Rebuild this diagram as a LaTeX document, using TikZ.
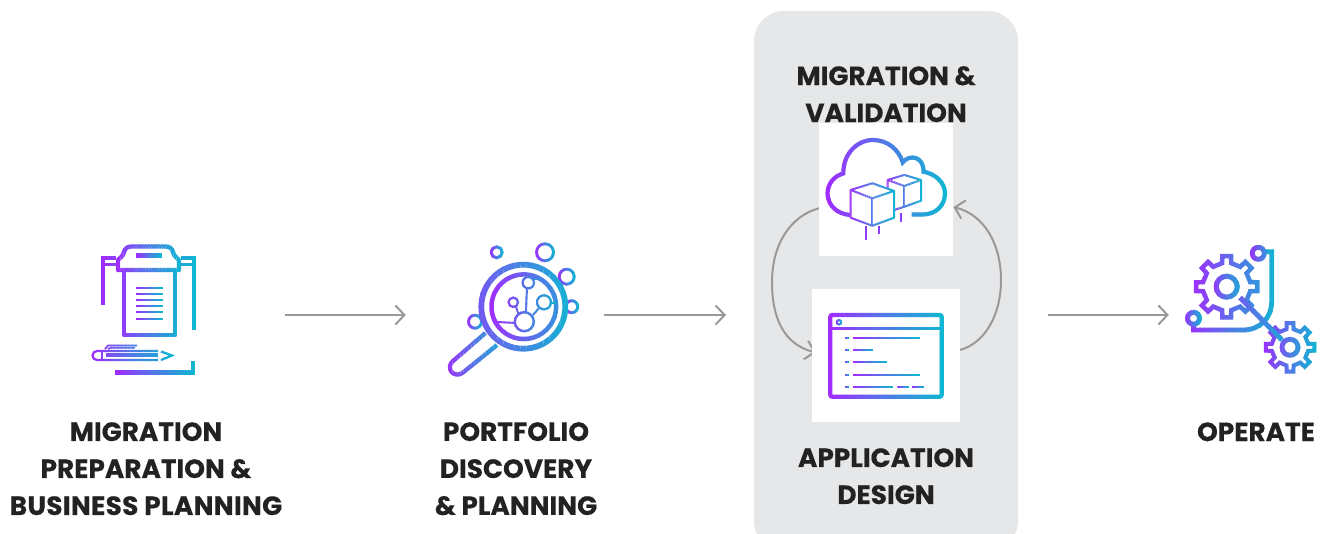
\documentclass[tikz,border=0pt]{standalone}
\usepackage{fontspec}
\setmainfont{Poppins}[BoldFeatures={FakeBold=0.3}]
\usetikzlibrary{arrows.meta,calc}
\definecolor{gA}{HTML}{A02CFF}
\definecolor{gB}{HTML}{4F7BE6}
\definecolor{gC}{HTML}{10B6D2}
\definecolor{tickpurple}{HTML}{8A3CF6}
\definecolor{panelgrey}{HTML}{E6E7E9}
\definecolor{flowgrey}{HTML}{999999}
\definecolor{labelink}{HTML}{222222}
\tikzset{
  flow/.style={draw=flowgrey,line width=2pt,-{Straight Barb[length=9pt,width=19pt,line width=2pt]}},
  label/.style={text=labelink,font=\fontsize{26.35}{37}\selectfont\bfseries,align=center,inner sep=0pt},
  whitebox/.style={fill=white,draw=none,inner sep=0pt},
  anchorbox/.style={inner sep=0pt,minimum height=10pt},
  panelbox/.style={fill=panelgrey,draw=none,rounded corners=30pt,inner sep=0pt},
}
% draw a shape in vertical strips, so that its strokes run through a horizontal gradient
\newcommand{\gradicon}[3]{%
  \foreach \gi in {0,...,23}{%
    \pgfmathsetmacro{\xa}{#1+(#2-#1)*\gi/24}%
    \pgfmathsetmacro{\xb}{#1+(#2-#1)*(\gi+1)/24+0.5}%
    \pgfmathsetmacro{\gt}{\gi/23}%
    \pgfmathparse{\gt<0.5?100-200*\gt:200-200*\gt}\let\gp\pgfmathresult
    \ifdim\gt pt<0.5pt \colorlet{gc}{gA!\gp!gB}\else\colorlet{gc}{gB!\gp!gC}\fi
    \begin{scope}
      \clip (\xa,0) rectangle (\xb,534);
      #3
    \end{scope}
  }%
}
% horizontal gradient bar: x0 x1 y width
\newcommand{\gbar}[4]{\gradicon{#1}{#2}{\draw[gc,line width=#4] (#1,#3) -- (#2,#3);}}
% gradient ring: cx cy r width
\newcommand{\gring}[4]{%
  \pgfmathsetmacro{\rl}{#1-#3-#4/2}\pgfmathsetmacro{\rr}{#1+#3+#4/2}%
  \gradicon{\rl}{\rr}{\draw[gc,line width=#4 pt] (#1,#2) circle[radius=#3];}%
}
\newcommand{\gearat}[5]{% cx cy tip root width
  \draw[gc,line width=#5,line join=miter] (#1,#2) ++(-11:#4)
    \foreach \ga in {0,45,...,315}{
      -- ($(#1,#2)+(\ga-11:#4)$) -- ($(#1,#2)+(\ga-8:#3)$) -- ($(#1,#2)+(\ga+8:#3)$) -- ($(#1,#2)+(\ga+11:#4)$)
      -- ($(#1,#2)+(\ga+34:#4)$)
    } -- cycle;
}
\begin{document}
\begin{tikzpicture}[x=1pt,y=-1pt]
\useasboundingbox (0,0) rectangle (1322,534);

% panel behind the loop
\node[panelbox,minimum width=264pt,minimum height=540pt] (panel) at (886,281) {};

% labels
\node[label] (t1) at (146,468.7) {MIGRATION\\PREPARATION \&\\{\addfontfeature{LetterSpace=1.2}BUSINESS PLANNING}};
\node[label] (t2) at (516,468.7) {PORTFOLIO\\DISCOVERY\\\& PLANNING};
\node[label] (t3) at (886,94.2) {MIGRATION \&\\VALIDATION};
\node[label] (t4) at (886,476.2) {APPLICATION\\DESIGN};
\node[label] (t5) at (1256,431.8) {OPERATE};

% anchors of the straight connectors
\node[anchorbox,minimum width=190pt] (prep) at (190,315) {};
\node[anchorbox,minimum width=198pt] (disc) at (505,315) {};
\coordinate (loopin) at (726,315);
\coordinate (loopout) at (1048,315);
\node[anchorbox,minimum width=140pt] (oper) at (1239,315) {};

\draw[flow] (prep.east) -- (disc.west);
\draw[flow] (disc.east) -- (loopin);
\draw[flow] (loopout) -- (oper.west);

% white tiles and loop
\coordinate (leftstart) at (819,208.3);
\coordinate (lefttip) at (816,352.5);
\coordinate (rightstart) at (960,350);
\coordinate (righttip) at (953.5,207);
\draw[flow] (leftstart) .. controls (790,216) and (772,245) .. (772,282) .. controls (772,320) and (785,345) .. (lefttip);
\node[whitebox,minimum width=134pt,minimum height=133pt] (cloudtile) at (886,189.2) {};
\node[whitebox,minimum width=148pt,minimum height=133pt] (apptile) at (886,355.5) {};
\draw[flow] (rightstart) .. controls (985,343) and (1001,315) .. (1001,280) .. controls (1001,245) and (985,215) .. (righttip);

% icon 1: clipboard
\gradicon{115}{182}{%
  \draw[gc,line width=4.3pt,line join=round] (124,270) rectangle (175,335);
  \draw[gc,line width=4.3pt,line join=round,fill=white] (118,270) -- (118,261) .. controls (118,258) and (122,258) .. (123,255) -- (124,252) .. controls (125,248) and (128,246.5) .. (132,246.5) -- (165,246.5) .. controls (169,246.5) and (172,248) .. (173,252) -- (174,255) .. controls (175,258) and (179,258) .. (179,261) -- (179,270) -- cycle;
}
\gbar{136}{162}{255.5}{4.3pt}
\foreach \ly in {287.7,293.7,300,306,312.3,319}{\gbar{136}{163}{\ly}{2.2pt}}
\gradicon{100}{197}{%
  \draw[gc,line width=4.3pt] (103,305) -- (103,258) -- (116,258);
  \draw[gc,line width=3pt] (103,265) -- (116,265);
  \draw[gc,line width=4.3pt] (194,330) -- (194,258) -- (181,258);
  \draw[gc,line width=3pt] (194,265) -- (181,265);
}
\gradicon{115}{196}{\draw[gc,line width=4.3pt] (115,372.5) -- (193,372.5) -- (193,361);}
\gradicon{90}{174}{%
  \draw[gc,line width=2.2pt] (158,351) -- (97,351) arc[start angle=-90,end angle=-270,radius=4.5] -- (158,360);
  \draw[gc,line width=2.2pt] (102,351) -- (102,360);
  \draw[gc,line width=4pt] (106,355.5) -- (158,355.5);
  \draw[gc,line width=1.7pt] (105,349) -- (108,345.5) -- (137,345.5);
  \draw[gc,line width=1.7pt] (108,349) -- (111,347.7) -- (135,347.7);
  \draw[gc,line width=2.2pt] (161,351.5) -- (172,355.5) -- (161,360);
}

% icon 2: magnifier
\gring{496.7}{252.3}{5.5}{2.7}
\gring{545}{252.3}{8.5}{2.7}
\gring{566.7}{276.7}{7.5}{2.7}
\gring{571.7}{306.7}{6}{2.7}
\gring{475}{321.7}{6.5}{2.7}
\gradicon{444}{510}{\draw[gc,line width=4.3pt,line join=round,fill=white] (485.5,333) -- (452.5,361.5) .. controls (445,369) and (455,379) .. (463,372.5) -- (497,345);}
\gradicon{440}{578}{\draw[gc,line width=5.8pt,fill=white] (523.3,306.7) circle[radius=42];}
\gradicon{488}{590}{\draw[gc,line width=4.5pt] (523.8,306.7) circle[radius=32.3];}
\gradicon{496}{560}{%
  \draw[gc,line width=1.9pt] (498,322) -- (515,323);
  \draw[gc,line width=1.9pt] (527,289) -- (526,312);
  \draw[gc,line width=1.9pt] (516,307) -- (518,313);
  \draw[gc,line width=1.9pt] (533,315) -- (539,308);
  \draw[gc,line width=1.9pt] (551,303) -- (556,303);
  \draw[gc,line width=1.9pt] (533,279) -- (541,279);
  \draw[gc,line width=2.4pt] (524.3,321.7) circle[radius=9.5];
  \draw[gc,line width=2.2pt] (528.3,282.7) circle[radius=5.7];
  \draw[gc,line width=2.2pt] (513.3,302.3) circle[radius=4.7];
  \draw[gc,line width=2.2pt] (544,302.3) circle[radius=7];
}

% icon 3: cloud
\gradicon{825}{948}{%
  \draw[gc,line width=4.2pt] (850,215) .. controls (836,214) and (827.5,204) .. (827.5,193.5) .. controls (827.5,184) and (834,176) .. (843.3,173.5) .. controls (843,154) and (857,140) .. (873,140) .. controls (888,140) and (899,150) .. (902.7,162.5) .. controls (909,154) and (924,156) .. (923.5,171.7) .. controls (936,174) and (945,183) .. (945,193.5) .. controls (945,206) and (935,214.5) .. (923,214.5) -- (911.5,214.5);
}
\draw[tickpurple,line width=2pt] (865.7,226) -- (865.7,240);
\draw[tickpurple,line width=2pt] (879,226) -- (879,234);
\draw[tickpurple,line width=2pt] (901,212.7) -- (901,221.7);
\gradicon{886}{923}{%
  \draw[gc,line width=2pt,line join=round,fill=white] (887.7,180) -- (904.3,175) -- (921,180) -- (921,200.7) -- (904.3,206.7) -- (887.7,212) -- cycle;
  \draw[gc,line width=2pt,line join=round] (887.7,180) -- (904.3,186) -- (921,180);
  \draw[gc,line width=2pt] (904.3,186) -- (904.3,206.7);
}
\gradicon{849}{896}{%
  \draw[gc,line width=2pt,line join=round,fill=white] (850.7,190) -- (872.3,183.3) -- (894,191) -- (894,217.7) -- (872.3,225.7) -- (850.7,217.7) -- cycle;
  \draw[gc,line width=2pt,line join=round] (850.7,190) -- (872.3,198.3) -- (894,191);
  \draw[gc,line width=2pt] (872.3,198.3) -- (872.3,225.7);
}

% icon 4: application window
\gradicon{828}{944}{%
  \draw[gc,line width=4.2pt,rounded corners=2pt] (830.3,315) rectangle (941.7,396.7);
  \draw[gc,line width=3pt] (830.3,328.3) -- (941.7,328.3);
}
\gring{839}{322.3}{2.2}{1.7}
\foreach \ly/\lx in {337.7/920,349.7/873.3,362.3/886.7,375/920,386.7/893.3}{
  \gbar{845}{849}{\ly}{2.2pt}
  \gbar{853}{\lx}{\ly}{2.2pt}
}
\gbar{897.3}{909.3}{386.7}{2.2pt}
\gbar{912}{924}{386.7}{2.2pt}

% icon 5: gears
\gradicon{1190}{1290}{\gearat{1226.7}{286.7}{31}{24}{4.5pt}}
\gradicon{1262}{1318}{\gearat{1290}{347.3}{24.5}{18.5}{4pt}}
\gradicon{1184}{1280}{\draw[gc,line width=4.8pt] (1193.5,324) -- (1193.5,330) -- (1243,330) .. controls (1260,330) and (1271.7,318) .. (1271.7,301) -- (1271.7,251.7) -- (1264,251.7);}
\gradicon{1184}{1203}{\draw[gc,line width=4.8pt] (1193.5,318.3) circle[radius=6];}
\gradicon{1249}{1275}{\draw[gc,line width=4.8pt] (1258.3,253.3) circle[radius=6];}
\gradicon{1210}{1300}{\draw[gc,line width=5pt] (1240,297.5) -- (1282,340);}
\gradicon{1210}{1245}{\draw[gc,line width=5pt] (1226.7,286.7) circle[radius=10.5];}
\gradicon{1270}{1310}{\draw[gc,line width=4.8pt] (1290,347.3) circle[radius=8];}
\end{tikzpicture}
\end{document}
